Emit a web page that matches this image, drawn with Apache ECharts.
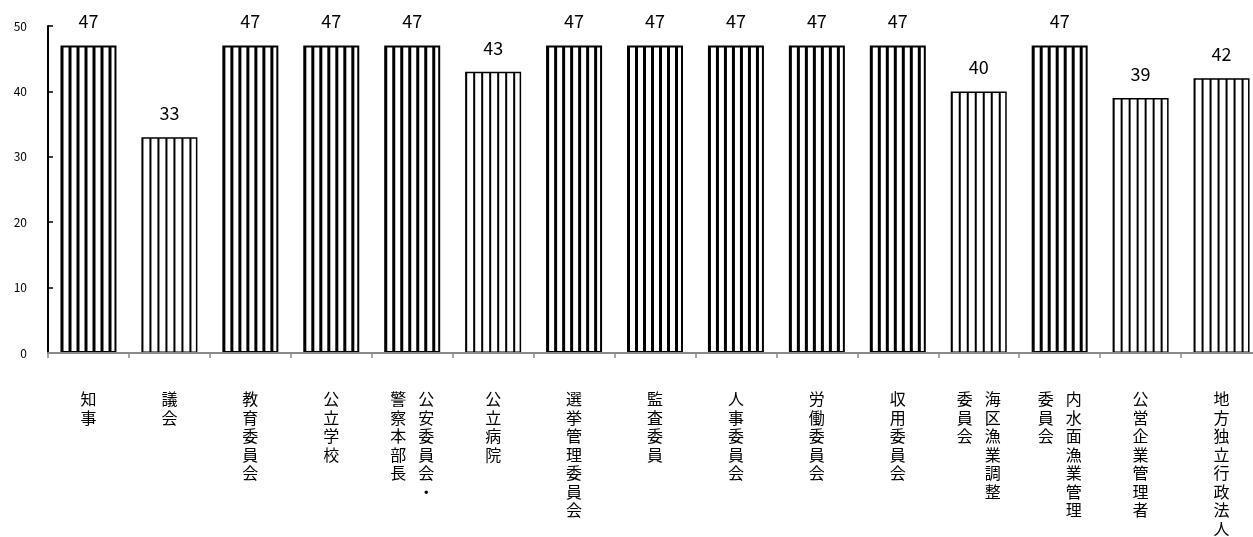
<!DOCTYPE html>
<html>
<head>
<meta charset="utf-8">
<script src="https://cdn.jsdelivr.net/npm/echarts@6/dist/echarts.min.js"></script>
<style>
  html, body { margin: 0; padding: 0; background: #fff; }
  #chart { width: 1253px; height: 537px; }
</style>
</head>
<body>
<div id="chart"></div>
<script>
// Categories (full names) and their vertical label columns, rightmost column first
const categories = ['知事', '議会', '教育委員会', '公立学校', '公安委員会・警察本部長', '公立病院',
  '選挙管理委員会', '監査委員', '人事委員会', '労働委員会', '収用委員会',
  '海区漁業調整委員会', '内水面漁業管理委員会', '公営企業管理者', '地方独立行政法人'];
const labelColumns = [['知事'], ['議会'], ['教育委員会'], ['公立学校'], ['公安委員会・', '警察本部長'],
  ['公立病院'], ['選挙管理委員会'], ['監査委員'], ['人事委員会'], ['労働委員会'], ['収用委員会'],
  ['海区漁業調整', '委員会'], ['内水面漁業管理', '委員会'], ['公営企業管理者'], ['地方独立行政法人']];
const values = [47, 33, 47, 47, 47, 43, 47, 47, 47, 47, 47, 40, 47, 39, 42];
const yMin = 0, yMax = 50, yStep = 10;

const FONT = '"Noto Sans CJK JP", "Noto Sans", sans-serif';
const BAR_W = 56;

// Vertical stripe tile: black band on the left of an 8px tile
function stripeTile(black) {
  const c = document.createElement('canvas');
  c.width = 8; c.height = 8;
  const g = c.getContext('2d');
  g.fillStyle = '#fff'; g.fillRect(0, 0, 8, 8);
  g.fillStyle = '#000'; g.fillRect(0, 0, black, 8);
  return c;
}
const thickTile = stripeTile(3);
const thinTile = stripeTile(2);
const full = Math.max.apply(null, values);

// Build vertical (top-to-bottom, right-to-left) label text with rich boxes
function verticalLabel(value, index) {
  const cols = labelColumns[index].slice().reverse();
  const rows = Math.max.apply(null, cols.map(c => c.length));
  const lines = [];
  for (let r = 0; r < rows; r++) {
    lines.push(cols.map(c => '{c|' + (c[r] || ' ') + '}').join(''));
  }
  return lines.join('\n');
}

function dataItems(offsets) {
  return values.map((v, i) => {
    const thick = v === full;
    return {
      value: v,
      itemStyle: {
        color: { image: thick ? thickTile : thinTile, repeat: 'repeat', x: offsets ? offsets[i] : 0, y: 0 },
        borderColor: '#000',
        borderWidth: thick ? 2 : 1.5
      }
    };
  });
}

const chart = echarts.init(document.getElementById('chart'), null, { renderer: 'canvas' });
chart.setOption({
  animation: false,
  backgroundColor: '#fff',
  grid: { left: 48, top: 26, width: 1214, height: 327, containLabel: false, outerBoundsMode: 'none' },
  xAxis: {
    type: 'category',
    data: categories,
    z: 3,
    axisLine: { lineStyle: { color: '#8a8a8a', width: 2 } },
    axisTick: { show: true, length: 5, lineStyle: { color: '#8a8a8a', width: 1.5 } },
    axisLabel: {
      interval: 0,
      margin: 37,
      hideOverlap: false,
      formatter: verticalLabel,
      rich: {
        c: { fontSize: 16, lineHeight: 18.5, width: 28, align: 'center', fontFamily: FONT, color: '#000' }
      }
    }
  },
  yAxis: {
    type: 'value',
    min: yMin, max: yMax, interval: yStep,
    axisLine: { show: true, lineStyle: { color: '#000', width: 2 } },
    axisTick: { show: true, inside: true, length: 5, lineStyle: { color: '#000', width: 1.5 } },
    splitLine: { show: false },
    axisLabel: { margin: 21, fontSize: 12, color: '#000', fontFamily: FONT }
  },
  series: [{
    type: 'bar',
    barWidth: BAR_W,
    data: dataItems(null),
    label: {
      show: true,
      position: 'top',
      distance: 15,
      fontSize: 18,
      color: '#000',
      fontFamily: FONT
    }
  }]
});

// Anchor each bar's stripe pattern at its own left edge
const offsets = categories.map(c => chart.convertToPixel({ xAxisIndex: 0 }, c) - BAR_W / 2);
chart.setOption({ series: [{ data: dataItems(offsets) }] });
</script>
</body>
</html>
